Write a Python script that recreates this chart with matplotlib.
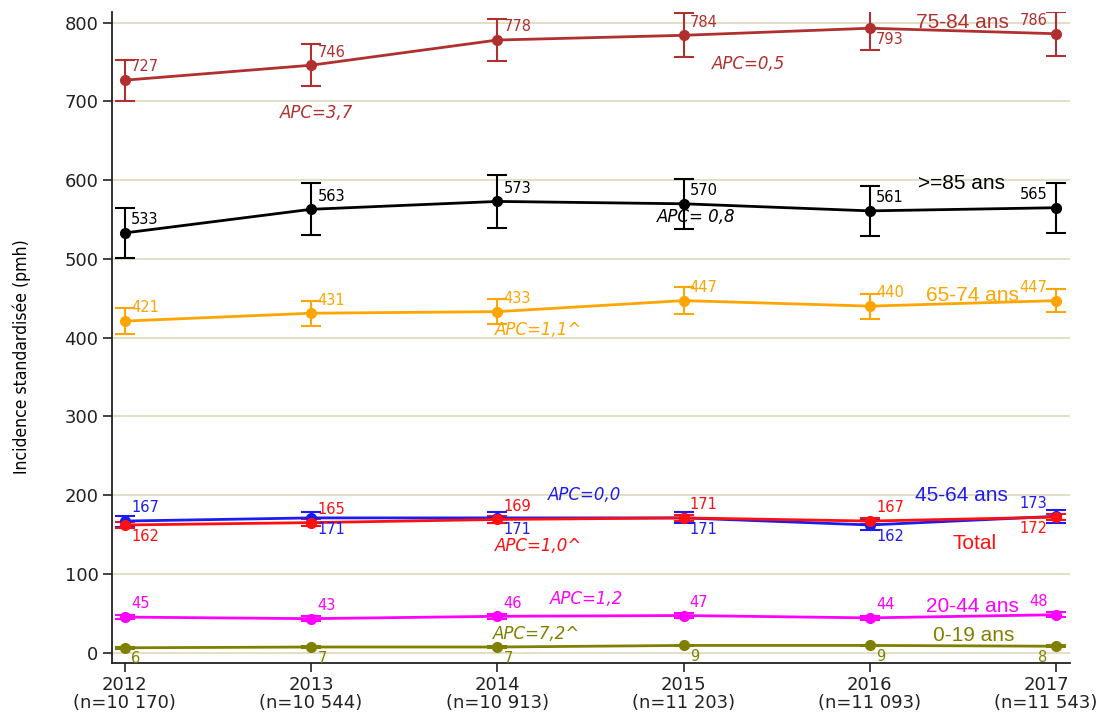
import matplotlib.pyplot as plt
from matplotlib.transforms import ScaledTranslation
import numpy as np

# Incidence standardisee par classe d'age, 2012-2017
years = [2012, 2013, 2014, 2015, 2016, 2017]
n_cases = ['10 170', '10 544', '10 913', '11 203', '11 093', '11 543']

inc_75_84 = [727, 746, 778, 784, 793, 786]
err_75_84 = [26, 27, 27, 28, 28, 28]
inc_85 = [533, 563, 573, 570, 561, 565]
err_85 = [32, 33, 34, 32, 32, 32]
inc_65_74 = [421, 431, 433, 447, 440, 447]
err_65_74 = [16, 16, 16, 17, 16, 15]
inc_45_64 = [167, 171, 171, 171, 162, 173]
err_45_64 = [7, 7, 7, 7, 7, 8]
inc_total = [162, 165, 169, 171, 167, 172]
err_total = [4, 4, 4, 4, 4, 4]
inc_20_44 = [45, 43, 46, 47, 44, 48]
err_20_44 = [3, 3, 3, 3, 3, 3]
inc_0_19 = [6, 7, 7, 9, 9, 8]
err_0_19 = [1, 1, 1, 1, 1, 1]

apc_75_84 = ['APC=3,7', 'APC=0,5']
apc_85 = 'APC= 0,8'
apc_65_74 = 'APC=1,1^'
apc_45_64 = 'APC=0,0'
apc_total = 'APC=1,0^'
apc_20_44 = 'APC=1,2'
apc_0_19 = 'APC=7,2^'

# series: values, errors, colour, name, label placement per point,
# name position, apc texts with positions
series = [
    (inc_45_64, err_45_64, '#1c1cf0', '45-64 ans', ['ne', 'se', 'se', 'se', 'se', 'nw'],
     (2016.49, 200), [(apc_45_64, 2014.47, 200)]),
    (inc_total, err_total, '#ff1010', 'Total', ['se', 'ne', 'ne', 'ne', 'ne', 'sw'],
     (2016.56, 139), [(apc_total, 2014.22, 135)]),
    (inc_75_84, err_75_84, '#b03030', '75-84 ans', ['ne', 'ne', 'ne', 'ne', 'se', 'nw'],
     (2016.50, 800), [(apc_75_84[0], 2013.03, 685), (apc_75_84[1], 2015.35, 748)]),
    (inc_85, err_85, '#000000', '>=85 ans', ['ne'] * 5 + ['nw'],
     (2016.49, 596), [(apc_85, 2015.07, 553)]),
    (inc_65_74, err_65_74, '#ffa500', '65-74 ans', ['ne'] * 5 + ['nw'],
     (2016.55, 454), [(apc_65_74, 2014.22, 410)]),
    (inc_20_44, err_20_44, '#ff00ff', '20-44 ans', ['ne'] * 5 + ['nw'],
     (2016.55, 58), [(apc_20_44, 2014.48, 68)]),
    (inc_0_19, err_0_19, '#808000', '0-19 ans', ['se'] * 5 + ['sw'],
     (2016.56, 22), [(apc_0_19, 2014.21, 24)]),
]

offsets = {'ne': (4.5, 9.5, 'left'), 'se': (4.5, -8, 'left'),
           'nw': (-6, 9.5, 'right'), 'sw': (-6, -8, 'right')}

fig = plt.figure(figsize=(11, 7.19), dpi=100)
ax = fig.add_axes([0.1015, 0.0779, 0.8712, 0.9054])

for vals, errs, col, name, places, name_pos, apcs in series:
    ax.errorbar(years, vals, yerr=errs, color=col, lw=2, marker='o', ms=7,
                elinewidth=1.5, capsize=7, capthick=1.5, zorder=3)
    for x, v, p in zip(years, vals, places):
        dx, dy, ha = offsets[p]
        ax.annotate(str(v), (x, v), xytext=(dx, dy), textcoords='offset points',
                    ha=ha, va='center', fontsize=10.5, color=col, zorder=4)
    ax.text(name_pos[0], name_pos[1], name, color=col, fontsize=15,
            family='Liberation Sans', ha='center', va='center', zorder=4)
    for txt, x, y in apcs:
        ax.text(x, y, txt, color=col, fontsize=12, style='italic',
                ha='center', va='center', zorder=4)

ax.set_xlim(2011.929, 2017.075)
ax.set_ylim(-13.3, 813.6)
ax.set_yticks(np.arange(0, 801, 100))
ax.set_xticks(years)
ax.set_xticklabels([f'{y}\n(n={n})' for y, n in zip(years, n_cases)],
                   linespacing=1.0)
ax.tick_params(axis='both', labelsize=13, length=6.5, width=1.2, pad=3,
               colors='#222222')
# last year label pulled a little left so it stays inside the figure
last = ax.get_xticklabels()[-1]
last.set_transform(last.get_transform() + ScaledTranslation(-10 / 100, 0, fig.dpi_scale_trans))

ax.grid(axis='y', color='#e2dbc0', lw=1.3, zorder=0)
ax.set_axisbelow(True)
for s in ['top', 'right']:
    ax.spines[s].set_visible(False)
for s in ['left', 'bottom']:
    ax.spines[s].set_linewidth(1.3)
    ax.spines[s].set_color('#222222')

# narrow font for the y title, sized to span about 236 px
ylab = fig.text(0.02, 1 - 357 / 719, 'Incidence standardisée (pmh)', rotation=90,
                ha='center', va='center', fontsize=16, fontstretch='condensed',
                family=['Liberation Sans Narrow', 'DejaVu Sans'])
fig.canvas.draw()
span = ylab.get_window_extent().height
ylab.set_fontsize(16 * 236 / span)

fig.savefig('out.png', dpi=100)
